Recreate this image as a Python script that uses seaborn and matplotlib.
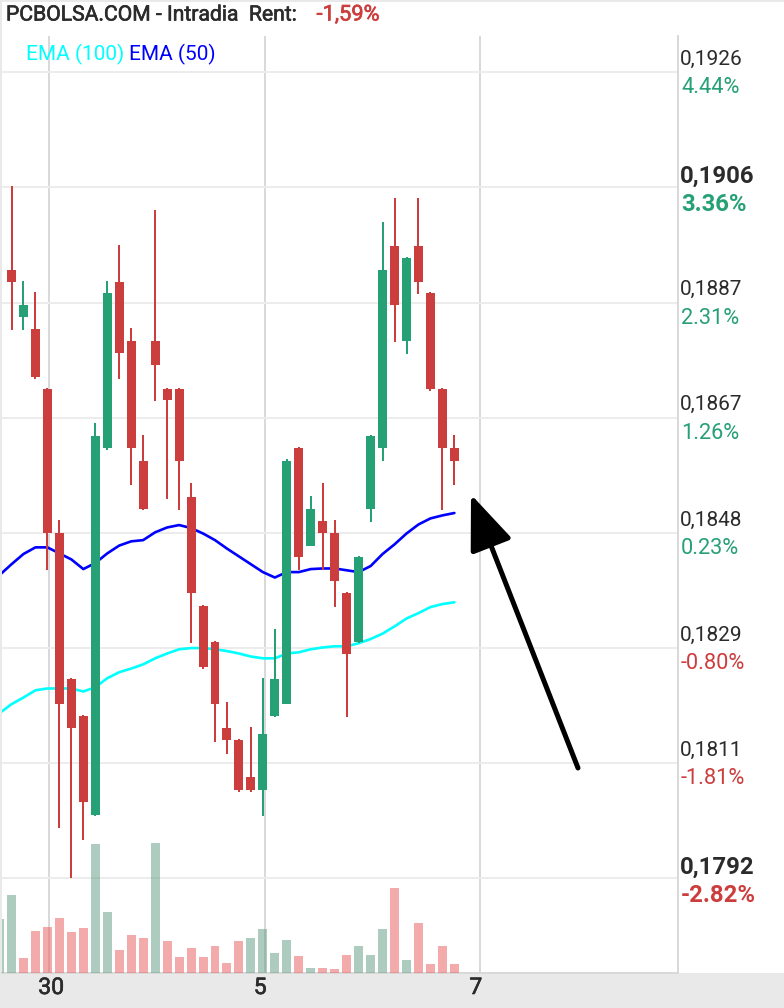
import matplotlib
matplotlib.use("Agg")
import matplotlib.pyplot as plt
import matplotlib.patheffects as pe
from matplotlib.patches import Rectangle
import numpy as np
import pandas as pd
import seaborn as sns

highs = [.19068, .18910, .18892, .18733, .18514, .18252, .18191, .18675, .18910, .18970,
         .18832, .18655, .19028, .18733, .18733, .18575, .18373, .18314, .18212, .18151,
         .18171, .18252, .18333, .18615, .18635, .18554, .18575, .18514, .18395, .18455,
         .18655, .19008, .19048, .18951, .19048, .18892, .18733, .18655]
lows = [.18829, .18829, .18749, .18431, .18003, .17920, .17983, .18023, .18631, .18749,
        .18572, .18531, .18711, .18550, .18531, .18310, .18268, .18147, .18126, .18064,
        .18064, .18023, .18187, .18209, .18431, .18471, .18431, .18370, .18187, .18310,
        .18511, .18612, .18809, .18789, .18889, .18729, .18531, .18572]
opens = [.18929, .18851, .18831, .18731, .18492, .18250, .18189, .18025, .18633, .18909,
         .18811, .18613, .18811, .18731, .18731, .18552, .18371, .18312, .18169, .18149,
         .18088, .18066, .18189, .18210, .18633, .18472, .18512, .18492, .18393, .18312,
         .18532, .18633, .18968, .18811, .18968, .18890, .18731, .18633]
closes = [.18909, .18871, .18751, .18492, .18210, .18169, .18046, .18653, .18890, .18791,
          .18633, .18532, .18771, .18713, .18613, .18393, .18270, .18210, .18149, .18066,
          .18066, .18159, .18250, .18613, .18453, .18532, .18492, .18413, .18292, .18453,
          .18653, .18929, .18871, .18949, .18909, .18731, .18633, .18613]

# these start one bar earlier, that bar is cut off by the left edge
ema_50 = [.18423, .18441, .18458, .18469, .18469, .18459, .18449, .18433, .18443, .18459,
          .18472, .18479, .18481, .18494, .18502, .18506, .18501, .18492, .18481, .18467,
          .18454, .18441, .18428, .18419, .18428, .18428, .18433, .18434, .18434, .18431,
          .18428, .18438, .18458, .18474, .18492, .18507, .18517, .18522, .18526]
ema_100 = [.18194, .18209, .18220, .18232, .18235, .18235, .18235, .18230, .18237, .18252,
           .18262, .18268, .18275, .18285, .18293, .18300, .18302, .18302, .18300, .18297,
           .18293, .18288, .18285, .18285, .18293, .18295, .18300, .18303, .18305, .18305,
           .18310, .18317, .18326, .18338, .18351, .18360, .18370, .18375, .18378]
volumes = [54, 78, 15, 42, 46, 55, 41, 45, 129, 61, 23, 38, 35, 130, 32, 16, 25, 16, 27, 10,
           32, 35, 44, 20, 33, 17, 5, 5, 4, 18, 27, 18, 44, 85, 13, 50, 9, 27, 9]
volume_side = list("ggrrrrrrggrrrgrrrrrrrggggrgrrrgggrgrrrr")

price_ticks = [.1792, .18111, .18302, .18493, .18684, .18875, .19066, .19257]
price_labels = ["0,1792", "0,1811", "0,1829", "0,1848", "0,1867", "0,1887", "0,1906", "0,1926"]
pct_labels = ["-2.82%", "-1.81%", "-0.80%", "0.23%", "1.26%", "2.31%", "3.36%", "4.44%"]
bold_labels = ["0,1792", "0,1906"]
day_ticks = [3.13, 21.18, 39.14]
day_labels = ["30", "5", "7"]

GREEN = "#26a075"
RED = "#cc3d3d"
DARK = "#2b2b2b"
GRID = "#ececec"
LINE = "#d9d9d9"
BAND = "#e9e9e9"

sns.set_style("white")
plt.rcParams["font.family"] = ["Roboto", "DejaVu Sans"]

W, H = 784, 1008
fig = plt.figure(figsize=(W / 100, H / 100), dpi=100, facecolor="white")
fig.add_artist(Rectangle((0, 0), 1, 35 / H, transform=fig.transFigure, color=BAND, lw=0, zorder=-1))
fig.add_artist(Rectangle((0, 0), 2 / W, 1, transform=fig.transFigure, color=BAND, lw=0, zorder=-1))
fig.add_artist(Rectangle((0, 1 - 2 / H), 1, 2 / H, transform=fig.transFigure, color=BAND, lw=0, zorder=-1))

ax = fig.add_axes([2 / W, 35.5 / H, 676 / W, 936.5 / H])
ax.patch.set_alpha(0)
ax_vol = ax.twinx()
ax_vol.patch.set_alpha(0)

bars = np.arange(len(opens))
x_all = np.arange(-1, len(opens))

# volume at the bottom
vol_df = pd.DataFrame({"bar": x_all, "vol": volumes, "side": volume_side})
sns.barplot(data=vol_df, x="bar", y="vol", hue="side", palette={"g": "#5d9b80", "r": "#e95757"},
            native_scale=True, dodge=False, width=0.75, alpha=0.5, saturation=1,
            linewidth=0, legend=False, ax=ax_vol)

ema_df = pd.DataFrame({"bar": x_all, "e50": ema_50, "e100": ema_100})
sns.lineplot(data=ema_df, x="bar", y="e100", color="#00ffff", lw=1.9, errorbar=None, ax=ax, zorder=2)
sns.lineplot(data=ema_df, x="bar", y="e50", color="#0000ff", lw=1.9, errorbar=None, ax=ax, zorder=2)

colors = [GREEN if c > o else RED for o, c in zip(opens, closes)]
ax.vlines(bars, lows, highs, colors=colors, lw=1.44, zorder=3)
ax.bar(bars, np.abs(np.array(closes) - np.array(opens)), bottom=np.minimum(opens, closes),
       width=0.75, color=colors, lw=0, zorder=4)

ax.set_xlim(-0.794, 55.68)
ax.set_ylim(.17764, .19317)
ax_vol.set_xlim(-0.794, 55.68)
ax_vol.set_ylim(0, 936.5)
ax_vol.axis("off")

ax.set_yticks(price_ticks)
ax.set_xticks(day_ticks)
ax.set_yticklabels([])
ax.set_xticklabels([])
ax.set_xlabel("")
ax.set_ylabel("")
ax.tick_params(length=0)
ax.grid(axis="y", color=GRID, lw=1.44)
ax.grid(axis="x", color=LINE, lw=1.44)
ax.set_axisbelow(True)
for side in ["top", "left"]:
    ax.spines[side].set_visible(False)
for side in ["right", "bottom"]:
    ax.spines[side].set_color(LINE)
    ax.spines[side].set_linewidth(1.44)

# fake a medium weight, Roboto only comes out regular or bold here
medium = lambda c: [pe.withStroke(linewidth=0.45, foreground=c)]

# right hand price + percent labels
for tick, price, pct in zip(price_ticks, price_labels, pct_labels):
    big = price in bold_labels
    weight = "bold" if big else "normal"
    size = 17.2 if big else 15
    ax.annotate(price, (1, tick), xycoords=("axes fraction", "data"),
                xytext=(1.6, 8.2 if big else 9.3), textcoords="offset points",
                va="center", ha="left", fontsize=size, color=DARK, weight=weight)
    ax.annotate(pct, (1, tick), xycoords=("axes fraction", "data"),
                xytext=(2.2, -12.4 if big else -11.2), textcoords="offset points",
                va="center", ha="left", fontsize=size if big else 15.7,
                color=RED if pct.startswith("-") else GREEN, weight=weight)

for tick, label, dx in zip(day_ticks, day_labels, [1.5, -3.5, -3]):
    ax.annotate(label, (tick, 0), xycoords=("data", "axes fraction"), xytext=(dx, -10.8),
                textcoords="offset points", va="center", ha="center", fontsize=16.5,
                color=DARK, path_effects=medium(DARK))

fig.text(6 / W, 1 - 15 / H, "PCBOLSA.COM - Intradia  Rent:", fontsize=15.2, color=DARK,
         va="center", path_effects=medium(DARK))
fig.text(316.5 / W, 1 - 15 / H, "-1,59%", fontsize=15.7, color=RED, va="center",
         path_effects=medium(RED))
fig.text(26 / W, 1 - 54 / H, "EMA (100)", fontsize=15, color="#00ffff", va="center")
fig.text(129 / W, 1 - 54 / H, "EMA (50)", fontsize=15, color="#0000ff", va="center")

ax.annotate("", xy=(471, H - 494.5), xytext=(578, H - 768), xycoords="figure pixels",
            textcoords="figure pixels", annotation_clip=False,
            arrowprops=dict(arrowstyle="-|>,head_length=3.4,head_width=1.35", mutation_scale=10,
                            lw=3.6, color="black", shrinkA=0, shrinkB=0))

plt.savefig("out.png", dpi=100)
plt.close()
